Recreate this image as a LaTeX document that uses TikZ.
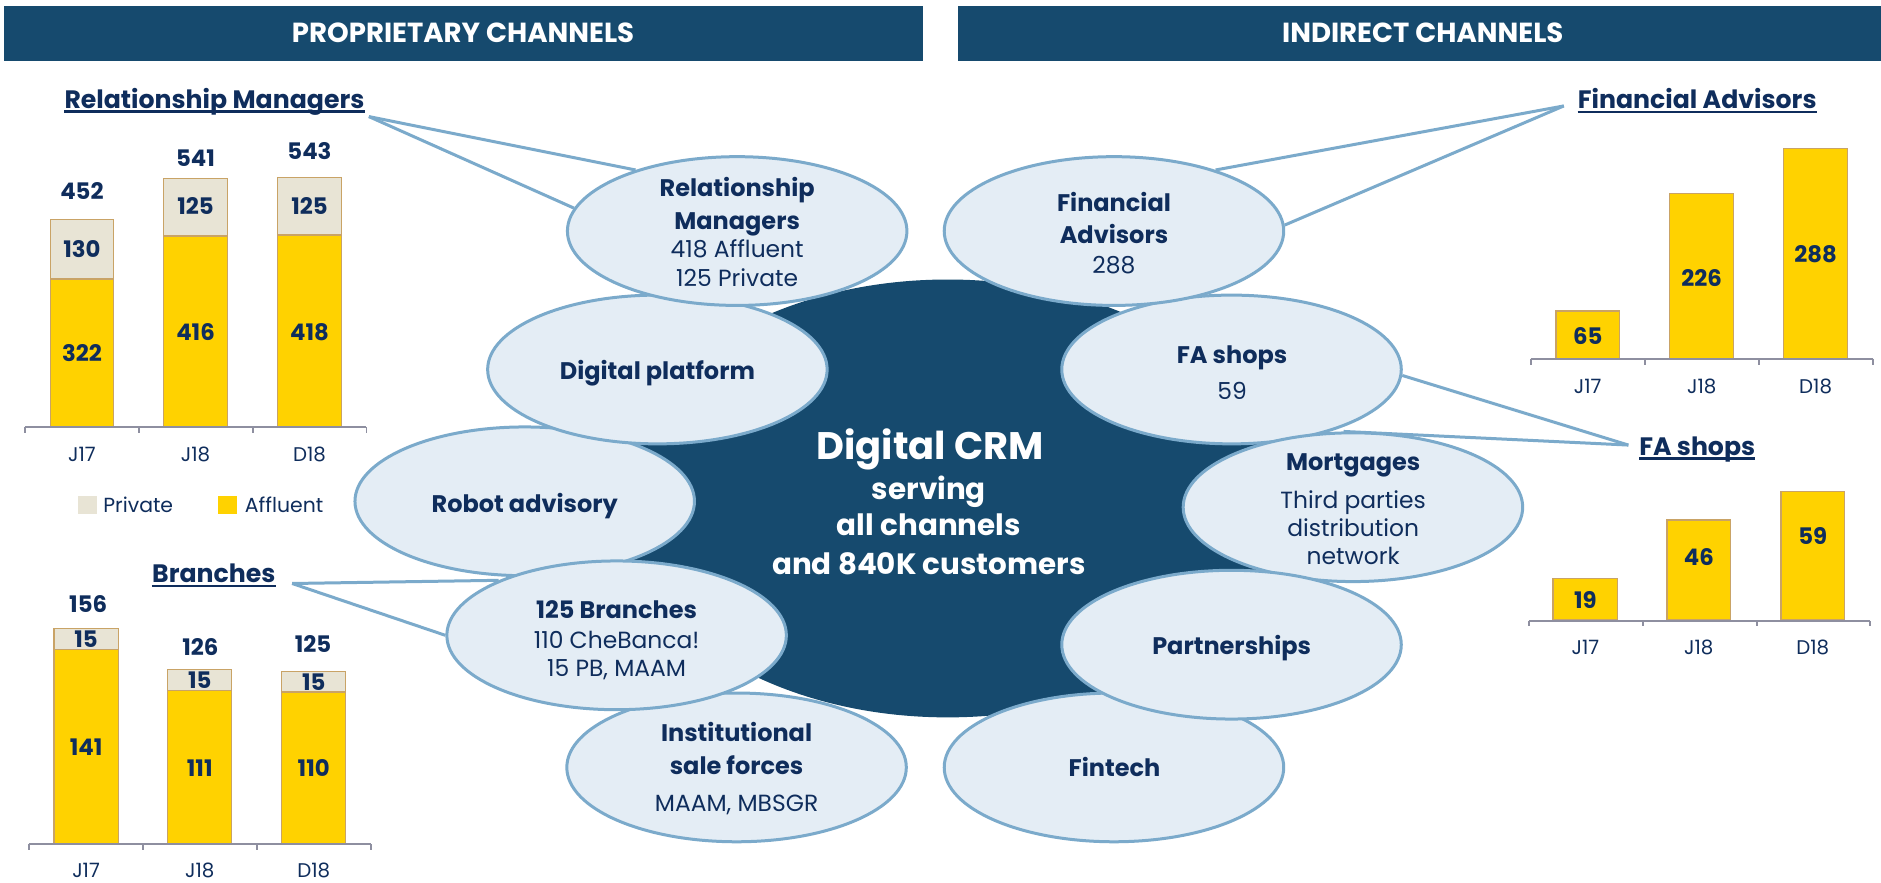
\documentclass[tikz,border=0pt]{standalone}
\usepackage{fontspec}
\setmainfont{Poppins}
\usetikzlibrary{shapes.geometric}
\definecolor{hdrblue}{HTML}{164A6E}
\definecolor{navy}{HTML}{0F2D5C}
\definecolor{bfill}{HTML}{E4EDF5}
\definecolor{bline}{HTML}{7BAACB}
\definecolor{gold}{HTML}{FFD200}
\definecolor{tanline}{HTML}{C9A366}
\definecolor{privc}{HTML}{E8E4D5}
\definecolor{axisgray}{HTML}{8E8FA0}
\begin{document}
\begin{tikzpicture}[x=1pt,y=-1pt,
  hd/.style={text=white,font=\fontsize{23}{27}\selectfont\bfseries,inner sep=0pt,text height=16pt,text depth=0pt},
  ttl/.style={text=navy,font=\fontsize{21}{25}\selectfont\bfseries,inner sep=0pt,anchor=base},
  ul/.style={draw=navy,line width=1.8pt},
  num/.style={text=navy,font=\fontsize{19}{23}\selectfont\bfseries,inner sep=0pt,text height=13.3pt,text depth=0pt},
  ax/.style={text=navy,font=\fontsize{16.5}{20}\selectfont,inner sep=0pt,text height=11.5pt,text depth=0pt},
  leg/.style={text=navy,font=\fontsize{17}{20}\selectfont,inner sep=0pt,text height=12pt,text depth=0pt,anchor=west},
  axisln/.style={draw=axisgray,line width=1.6pt},
  affbar/.style={fill=gold,draw=tanline,line width=1pt},
  privbar/.style={fill=privc,draw=tanline,line width=1pt},
  bubble/.style={ellipse,draw=bline,line width=2.5pt,fill=bfill,minimum width=283pt,minimum height=124pt,inner sep=0pt},
  co/.style={draw=bline,line width=2.5pt},
  bt/.style={text=navy,font=\fontsize{20}{24}\selectfont\bfseries,inner sep=0pt,text height=14pt,text depth=0pt},
  rt/.style={text=navy,font=\fontsize{19.5}{23}\selectfont,inner sep=0pt,text height=13.6pt,text depth=0pt},
  ct/.style={text=white,font=\fontsize{24.5}{28}\selectfont\bfseries,inner sep=0pt,text height=17pt,text depth=0pt},
  cth/.style={text=white,font=\fontsize{32}{36}\selectfont\bfseries,inner sep=0pt,text height=22.4pt,text depth=0pt}
]
\useasboundingbox (0,0) rectangle (1568,735.3);
\fill[white] (0,0) rectangle (1568,735.3);

% headers
\fill[hdrblue] (3.5,5) rectangle (769,50.8);
\fill[hdrblue] (798.6,5) rectangle (1568,50.8);
\node[hd] (hleft) at (386,27.8) {PROPRIETARY CHANNELS};
\node[hd] (hright) at (1186,27.8) {INDIRECT CHANNELS};

% ---------- Relationship Managers chart
\node[ttl] (rmt) at (178.75,90.3) {Relationship Managers};
\draw[ul] ([yshift=-2.7pt]rmt.base west) -- ([yshift=-2.7pt]rmt.base east);
\draw[affbar] (41.8,355.6) rectangle (94.8,232.6);
\draw[privbar] (41.8,232.6) rectangle (94.8,182.9);
\draw[affbar] (136.5,355.6) rectangle (189.5,196.7);
\draw[privbar] (136.5,196.7) rectangle (189.5,148.9);
\draw[affbar] (231.5,355.6) rectangle (284.5,195.9);
\draw[privbar] (231.5,195.9) rectangle (284.5,148.2);
\draw[axisln] (21,356) -- (305.5,356);
\foreach \x in {21,116,211,305.5} \draw[axisln] (\x,356) -- (\x,361);
\node[num] (rmA1) at (68.3,295) {322};
\node[num] (rmP1) at (68.3,208) {130};
\node[num] (rmT1) at (68.3,160) {452};
\node[num] (rmA2) at (163,277) {416};
\node[num] (rmP2) at (163,172) {125};
\node[num] (rmT2) at (163,132) {541};
\node[num] (rmA3) at (258,277) {418};
\node[num] (rmP3) at (258,172) {125};
\node[num] (rmT3) at (258,126) {543};
\node[ax] (rmX1) at (68.3,378.6) {J17};
\node[ax] (rmX2) at (163,378.6) {J18};
\node[ax] (rmX3) at (258,378.6) {D18};
% legend
\fill[privc] (65,413.5) rectangle (81,428.5);
\node[leg] (lgP) at (86,421) {Private};
\fill[gold] (181.5,413.5) rectangle (197.5,428.5);
\node[leg] (lgA) at (204,421) {Affluent};

% ---------- Branches chart
\node[ttl] (brt) at (178.25,485.6) {Branches};
\draw[ul] ([yshift=-2.9pt]brt.base west) -- ([yshift=-2.9pt]brt.base east);
\draw[affbar] (45,703.3) rectangle (98.5,541.1);
\draw[privbar] (45,541.1) rectangle (98.5,523.9);
\draw[affbar] (139.75,703.3) rectangle (193.25,575.6);
\draw[privbar] (139.75,575.6) rectangle (193.25,558.4);
\draw[affbar] (234.75,703.3) rectangle (288.25,576.8);
\draw[privbar] (234.75,576.8) rectangle (288.25,559.6);
\draw[axisln] (24,703.6) -- (309,703.6);
\foreach \x in {24,119,214,309} \draw[axisln] (\x,703.6) -- (\x,708.6);
\node[num] (brA1) at (71.75,623) {141};
\node[num] (brP1) at (71.75,533.3) {15};
\node[num] (brT1) at (73.5,503.6) {156};
\node[num] (brA2) at (166.5,641) {111};
\node[num] (brP2) at (166.5,567.5) {15};
\node[num] (brT2) at (167,539.7) {126};
\node[num] (brA3) at (261.5,641) {110};
\node[num] (brP3) at (261.5,568.9) {15};
\node[num] (brT3) at (261,537) {125};
\node[ax] (brX1) at (71.75,725.8) {J17};
\node[ax] (brX2) at (166.5,725.8) {J18};
\node[ax] (brX3) at (261.5,725.8) {D18};

% ---------- Financial Advisors chart
\node[ttl] (fat) at (1414.8,90.3) {Financial Advisors};
\draw[ul] ([yshift=-3pt]fat.base west) -- ([yshift=-3pt]fat.base east);
\draw[affbar] (1297,298.6) rectangle (1350,259.2);
\draw[affbar] (1392,298.6) rectangle (1445,161.5);
\draw[affbar] (1487,298.6) rectangle (1540,123.9);
\draw[axisln] (1276,299) -- (1561,299);
\foreach \x in {1276,1371,1466,1561} \draw[axisln] (\x,299) -- (\x,304);
\node[num] (faA1) at (1323.5,280.6) {65};
\node[num] (faA2) at (1418.5,232) {226};
\node[num] (faA3) at (1513.5,212.5) {288};
\node[ax] (faX1) at (1323.5,322.2) {J17};
\node[ax] (faX2) at (1418.5,322.2) {J18};
\node[ax] (faX3) at (1513.5,322.2) {D18};

% ---------- FA shops chart
\node[ttl] (fst) at (1414.8,379.3) {FA shops};
\draw[ul] ([yshift=-2.9pt]fst.base west) -- ([yshift=-2.9pt]fst.base east);
\draw[affbar] (1294.6,516.7) rectangle (1348.6,482.3);
\draw[affbar] (1389.6,516.7) rectangle (1442.6,433.5);
\draw[affbar] (1484.6,516.7) rectangle (1537.6,410);
\draw[axisln] (1274.6,517.5) -- (1558.6,517.5);
\foreach \x in {1274.6,1369.6,1464.6,1558.6} \draw[axisln] (\x,517.5) -- (\x,522);
\node[num] (fsA1) at (1321.6,500.3) {19};
\node[num] (fsA2) at (1416.1,464.7) {46};
\node[num] (fsA3) at (1511.1,447.2) {59};
\node[ax] (fsX1) at (1321.6,539.7) {J17};
\node[ax] (fsX2) at (1416.1,539.7) {J18};
\node[ax] (fsX3) at (1511.1,539.7) {D18};

% ---------- central cloud
\node[ellipse,fill=hdrblue,minimum width=550pt,minimum height=365pt,inner sep=0pt] (crm) at (790,415.5) {};

% ---------- bubbles
\node[bubble] (robot) at (437.4,417.9) {};
\node[bubble] (inst) at (614,639.7) {};
\node[bubble] (dp) at (548,308) {};
\node[bubble] (rm) at (614.5,192.6) {};
\node[bubble] (br) at (514,529.6) {};
\node[bubble] (fash) at (1026.6,308) {};
\node[bubble] (fa) at (928.6,192.6) {};
\node[bubble] (mort) at (1127.8,422.8) {};
\node[bubble] (fin) at (928.6,639.7) {};
\node[bubble] (part) at (1026.6,537.4) {};

% ---------- callouts
\coordinate (rmapex) at (307.5,97.2);
\draw[co] (rmapex) -- (rm.149);
\draw[co] (rmapex) -- (rm.172);
\coordinate (faapex) at (1303.6,88.3);
\draw[co] (faapex) -- (fa.31);
\draw[co] (faapex) -- (fa.2);
\coordinate (brapex) at (243.5,486.4);
\draw[co] (brapex) -- (br.155);
\draw[co] (brapex) -- (br.180);
\coordinate (fsapex) at (1357.4,371);
\draw[co] (fsapex) -- (fash.-2);
\draw[co] (fsapex) -- (mort.97);

% ---------- bubble texts
\node[bt] (rm1) at (614.5,157) {Relationship};
\node[bt] (rm2) at (614.5,184) {Managers};
\node[rt] (rm3) at (614.5,208) {418 Affluent};
\node[rt] (rm4) at (614.5,232) {125 Private};
\node[bt] (dp1) at (548,309.7) {Digital platform};
\node[bt] (ro1) at (437.4,420) {Robot advisory};
\node[bt] (br1) at (514,508.5) {125 Branches};
\node[rt] (br2) at (514,533.5) {110 CheBanca!};
\node[rt] (br3) at (514,557.1) {15 PB, MAAM};
\node[bt] (in1) at (614,611.4) {Institutional};
\node[bt] (in2) at (614,638.3) {sale forces};
\node[rt] (in3) at (614,669.7) {MAAM, MBSGR};
\node[bt] (fa1) at (928.6,168.9) {Financial};
\node[bt] (fa2) at (928.6,195.8) {Advisors};
\node[rt] (fa3) at (928.6,220.8) {288};
\node[bt] (fs1) at (1027,296) {FA shops};
\node[rt] (fs2) at (1027,326.5) {59};
\node[bt] (mo1) at (1128,384.8) {Mortgages};
\node[rt] (mo2) at (1128,416.8) {Third parties};
\node[rt] (mo3) at (1128,440.4) {distribution};
\node[rt] (mo4) at (1128,464) {network};
\node[bt] (pa1) at (1026.7,539) {Partnerships};
\node[bt] (fi1) at (929,640.5) {Fintech};

% ---------- central text
\node[cth] (c1) at (775.5,372) {Digital CRM};
\node[ct] (c2) at (774.3,407.8) {serving};
\node[ct] (c3) at (774.3,438.3) {all channels};
\node[ct] (c4) at (774.3,470.3) {and 840K customers};
\end{tikzpicture}
\end{document}
